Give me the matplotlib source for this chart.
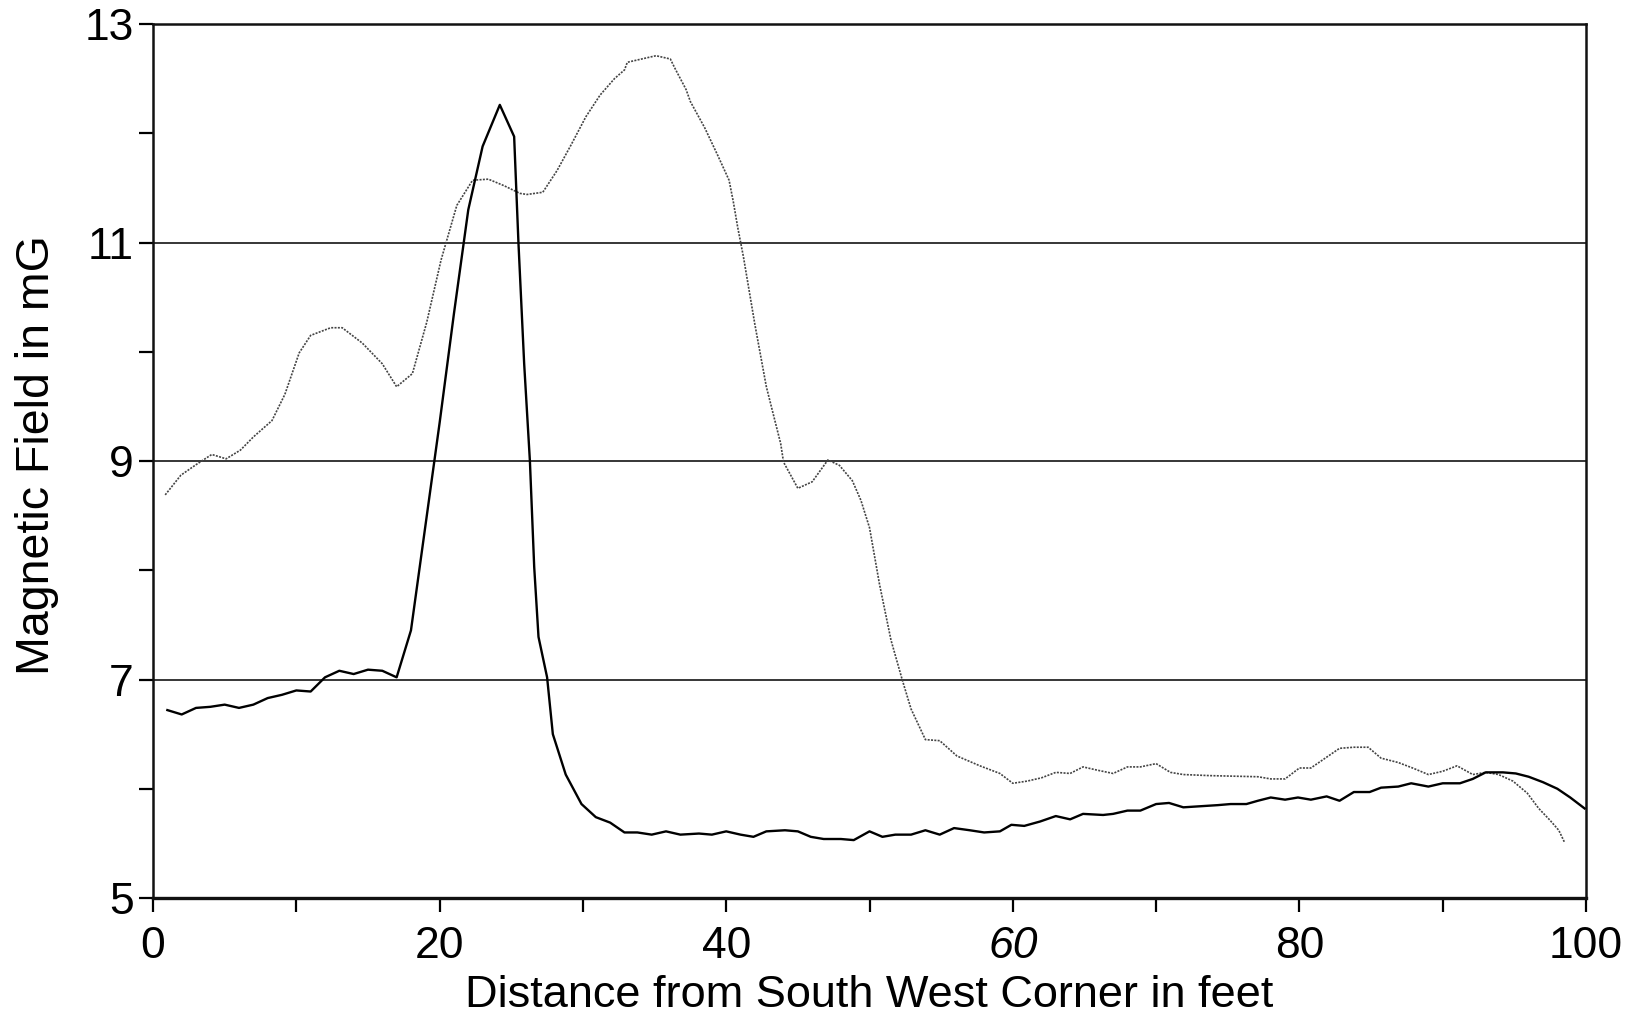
import matplotlib
matplotlib.use('Agg')
import matplotlib.pyplot as plt
import numpy as np

plt.rcParams['font.family'] = ['Liberation Sans', 'DejaVu Sans']

# solid (dark) series: distance in feet, field in mG
solid_x = [1, 2, 3, 4, 5, 6, 7, 8, 9, 10, 11, 12, 13, 14, 15, 16, 17, 18, 19, 20,
           21, 22, 23, 24.2, 25.2, 25.5, 25.9, 26.3, 26.6, 26.9, 27.5, 27.9, 28.8, 29.9,
           30.9, 31.9, 32.9, 33.8, 34.8, 35.8, 36.8, 38.1, 39.0, 40.0, 41.0, 41.9, 42.8,
           44.1, 45.0, 45.9, 46.8, 48.0, 48.9, 50.0, 50.9, 51.8, 52.9, 53.9, 54.9, 55.9,
           57.0, 58.0, 59.1, 59.9, 60.8, 61.9, 63.0, 64.0, 64.9, 66.3, 67.0, 68.0, 68.9,
           70.0, 70.9, 71.9, 73.1, 74.3, 75.2, 76.3, 77.1, 78.0, 79.0, 79.9, 80.8, 81.9,
           82.8, 83.8, 84.9, 85.7, 86.9, 87.8, 89.0, 90.0, 91.2, 92.1, 93.0, 94.2, 95.1,
           96.0, 97.0, 98.0, 98.9, 99.9]
solid_y = [6.72, 6.68, 6.74, 6.75, 6.77, 6.74, 6.77, 6.83, 6.86, 6.90, 6.89, 7.02, 7.08,
           7.05, 7.09, 7.08, 7.02, 7.45, 8.40, 9.35, 10.35, 11.30, 11.88, 12.26, 11.97,
           11.00, 9.89, 9.00, 8.03, 7.39, 7.02, 6.50, 6.13, 5.86, 5.74, 5.69, 5.60, 5.60,
           5.58, 5.61, 5.58, 5.59, 5.58, 5.61, 5.58, 5.56, 5.61, 5.62, 5.61, 5.56, 5.54,
           5.54, 5.53, 5.61, 5.56, 5.58, 5.58, 5.62, 5.58, 5.64, 5.62, 5.60, 5.61, 5.67,
           5.66, 5.70, 5.75, 5.72, 5.77, 5.76, 5.77, 5.80, 5.80, 5.86, 5.87, 5.83, 5.84,
           5.85, 5.86, 5.86, 5.89, 5.92, 5.90, 5.92, 5.90, 5.93, 5.89, 5.97, 5.97, 6.01,
           6.02, 6.05, 6.02, 6.05, 6.05, 6.09, 6.15, 6.15, 6.14, 6.11, 6.06, 6.00, 5.92,
           5.82]

# dotted (light) series
dot_x = [0.85, 1.94, 3.04, 4.1, 5.1, 6.1, 7.0, 8.3, 9.2, 10.2, 11.0, 12.4, 13.2, 14.6,
         16.0, 17.0, 18.1, 19.1, 20.1, 21.2, 22.3, 23.4, 24.5, 25.6, 26.1, 27.2, 28.2,
         29.2, 30.2, 31.2, 32.2, 32.9, 33.1, 34.1, 35.1, 36.1, 36.4, 37.2, 37.5, 38.5,
         39.4, 40.2, 40.5, 40.8, 41.2, 42.0, 42.8, 43.8, 44.0, 45.0, 46.0, 47.1, 47.9,
         48.8, 49.4, 50.0, 50.7, 51.5, 52.3, 52.9, 53.9, 54.9, 56.1, 57.7, 59.1, 60.0,
         61.0, 62.0, 63.0, 64.0, 64.9, 65.9, 67.0, 68.0, 68.9, 70.0, 71.0, 71.9, 73.8,
         77.1, 78.0, 79.0, 80.0, 80.8, 81.8, 82.8, 83.8, 84.8, 85.7, 86.9, 87.9, 89.0,
         90.0, 91.0, 92.1, 93.0, 93.9, 94.9, 95.9, 96.7, 97.5, 98.1, 98.5]
dot_y = [8.69, 8.87, 8.97, 9.06, 9.02, 9.10, 9.22, 9.37, 9.61, 9.99, 10.15, 10.22, 10.22,
         10.08, 9.89, 9.68, 9.80, 10.27, 10.84, 11.34, 11.57, 11.58, 11.52, 11.45, 11.44,
         11.46, 11.66, 11.90, 12.15, 12.35, 12.50, 12.58, 12.65, 12.68, 12.71, 12.68,
         12.60, 12.40, 12.29, 12.05, 11.80, 11.57, 11.37, 11.14, 10.87, 10.25, 9.68,
         9.16, 8.99, 8.75, 8.81, 9.01, 8.96, 8.82, 8.64, 8.39, 7.87, 7.36, 6.99, 6.73,
         6.45, 6.44, 6.30, 6.21, 6.14, 6.05, 6.07, 6.10, 6.15, 6.14, 6.20, 6.17, 6.14,
         6.20, 6.20, 6.23, 6.15, 6.13, 6.12, 6.11, 6.09, 6.09, 6.19, 6.19, 6.28, 6.37,
         6.38, 6.38, 6.28, 6.24, 6.19, 6.13, 6.16, 6.21, 6.13, 6.15, 6.13, 6.07, 5.96,
         5.82, 5.71, 5.62, 5.51]

y_ticks = [5, 7, 9, 11, 13]
x_ticks = [0, 20, 40, 60, 80, 100]
grid_levels = [7, 9, 11]

fig = plt.figure(figsize=(16.28, 10.14), dpi=100)
ax = fig.add_axes([0.0940, 0.1144, 0.8802, 0.8619])

for g in grid_levels:
    ax.axhline(g, color='black', lw=1.1, zorder=1)

ax.plot(dot_x, dot_y, color='#444444', lw=1.2, linestyle=(0, (1.2, 0.8)), zorder=2)
ax.plot(solid_x, solid_y, color='black', lw=1.7, zorder=3)

ax.set_xlim(0, 100)
ax.set_ylim(5, 13)
ax.set_xticks(x_ticks)
ax.set_xticks(np.arange(10, 100, 20), minor=True)
ax.set_yticks(y_ticks)
ax.set_yticks([6, 8, 10, 12], minor=True)
ax.tick_params(axis='both', which='both', direction='out', width=1.6, labelsize=32)
ax.tick_params(axis='y', which='both', length=10, pad=4)
ax.tick_params(axis='x', which='both', length=10, pad=10)

labels = ax.set_xticklabels([str(t) for t in x_ticks])
labels[3].set_style('italic')

for side, lw in [('top', 1.8), ('left', 1.8), ('right', 1.8), ('bottom', 2.4)]:
    ax.spines[side].set_linewidth(lw)
    ax.spines[side].set_color('#111111')

ax.set_xlabel('Distance from South West Corner in feet', fontsize=32.5)
ax.set_ylabel('Magnetic Field in mG', fontsize=33.5)
ax.xaxis.set_label_coords(0.5, -0.0880)
ax.yaxis.set_label_coords(-0.0654, 0.507)

fig.savefig('out.png', dpi=100, facecolor='white')
